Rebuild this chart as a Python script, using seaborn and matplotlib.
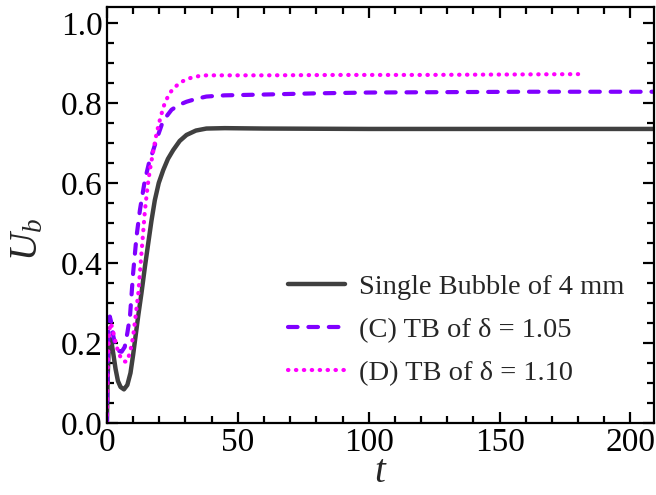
import numpy as np
import pandas as pd
import matplotlib
matplotlib.use("Agg")
import matplotlib.pyplot as plt
from matplotlib.ticker import MultipleLocator
import seaborn as sns

# Rise velocity of a single bubble and of two tandem bubbles (TB)
t_single = [0, 0.3, 0.7, 1.2, 1.8, 2.5, 3.3, 4.2, 5.2, 6.5, 7.8, 9, 10, 11, 12, 13.2,
            14.5, 15.8, 17, 18.3, 19.8, 21.5, 23.3, 25.3, 27.8, 30.4, 34, 38, 45, 60,
            100, 150, 209]
u_single = [0, 0.12, 0.19, 0.21, 0.2, 0.17, 0.135, 0.105, 0.09, 0.084, 0.095, 0.125,
            0.17, 0.22, 0.27, 0.325, 0.39, 0.45, 0.505, 0.557, 0.6, 0.632, 0.66, 0.682,
            0.705, 0.72, 0.731, 0.736, 0.737, 0.736, 0.735, 0.735, 0.735]

t_c = [0, 0.3, 0.6, 1.1, 1.7, 2.5, 3.5, 4.5, 5.6, 6.8, 7.8, 8.8, 10, 11.3, 12.6, 14.5,
       16, 17.7, 19.3, 20.9, 22.7, 24.7, 27.5, 30.4, 34, 38, 45, 60, 80, 100, 130, 160, 209]
u_c = [0, 0.15, 0.23, 0.266, 0.25, 0.215, 0.19, 0.18, 0.178, 0.19, 0.225, 0.266, 0.374,
       0.466, 0.532, 0.607, 0.648, 0.682, 0.715, 0.745, 0.766, 0.783, 0.795, 0.803, 0.81,
       0.816, 0.819, 0.821, 0.824, 0.826, 0.827, 0.828, 0.828]

t_d = [0, 0.3, 0.7, 1.3, 2, 3, 4.2, 5.5, 6.5, 7.5, 8.8, 10, 11, 12, 13.2, 14.5, 15.5,
       16.4, 17.7, 19, 20.5, 22.1, 24, 26, 28.5, 31.7, 35, 38, 45, 60, 90, 120, 150, 180]
u_d = [0, 0.13, 0.21, 0.25, 0.24, 0.21, 0.18, 0.16, 0.154, 0.153, 0.175, 0.216, 0.27,
       0.325, 0.425, 0.53, 0.59, 0.632, 0.68, 0.725, 0.765, 0.8, 0.825, 0.84, 0.853,
       0.862, 0.867, 0.869, 0.869, 0.869, 0.87, 0.87, 0.871, 0.872]

labels = ["Single Bubble of 4 mm", "(C) TB of \u03b4 = 1.05", "(D) TB of \u03b4 = 1.10"]
colors = ["#404040", "#8000ff", "#ff00ff"]

sns.set_theme(style="ticks")
plt.rcParams["font.family"] = ["Liberation Serif", "DejaVu Serif"]
plt.rcParams["mathtext.fontset"] = "custom"
plt.rcParams["mathtext.rm"] = "Liberation Serif"
plt.rcParams["mathtext.it"] = "Liberation Serif:italic"

fig = plt.figure(figsize=(6.56, 4.95), dpi=100)
ax = fig.add_axes([0.163, 0.1455, 0.834, 0.8405])

sns.lineplot(x=t_single, y=u_single, ax=ax, color=colors[0], lw=3.2,
             label=labels[0], solid_capstyle="round")
sns.lineplot(x=t_c, y=u_c, ax=ax, color=colors[1], lw=3, label=labels[1],
             dash_capstyle="round")
sns.lineplot(x=t_d, y=u_d, ax=ax, color=colors[2], lw=3, label=labels[2],
             dash_capstyle="round")
lines = ax.get_lines()
lines[1].set_linestyle((0, (2.3, 2.6)))
lines[2].set_linestyle((0, (0.1, 1.8)))

ax.set_xlim(0, 209)
ax.set_ylim(0, 1.04)
ax.xaxis.set_major_locator(MultipleLocator(50))
ax.xaxis.set_minor_locator(MultipleLocator(10))
ax.yaxis.set_major_locator(MultipleLocator(0.2))
ax.yaxis.set_minor_locator(MultipleLocator(0.05))
ax.yaxis.set_major_formatter(matplotlib.ticker.FormatStrFormatter("%.1f"))
ax.tick_params(which="both", direction="in", top=True, right=True, width=1.6,
               labelsize=24, pad=3, colors="black")
ax.tick_params(which="major", length=8)
ax.tick_params(which="minor", length=5)
for s in ax.spines.values():
    s.set_linewidth(1.6)
    s.set_color("black")

ax.set_xlabel("$t$", fontsize=28)
ax.set_ylabel("$U_b$", fontsize=28)
ax.xaxis.set_label_coords(0.5, -0.075)
ax.yaxis.set_label_coords(-0.11, 0.44)

ax.legend(loc="center left", bbox_to_anchor=(0.331, 0.224), frameon=False,
          fontsize=20.5, handlelength=2.0, handletextpad=0.5, labelspacing=0.6,
          borderpad=0, borderaxespad=0)

fig.savefig("out.png", dpi=100)
